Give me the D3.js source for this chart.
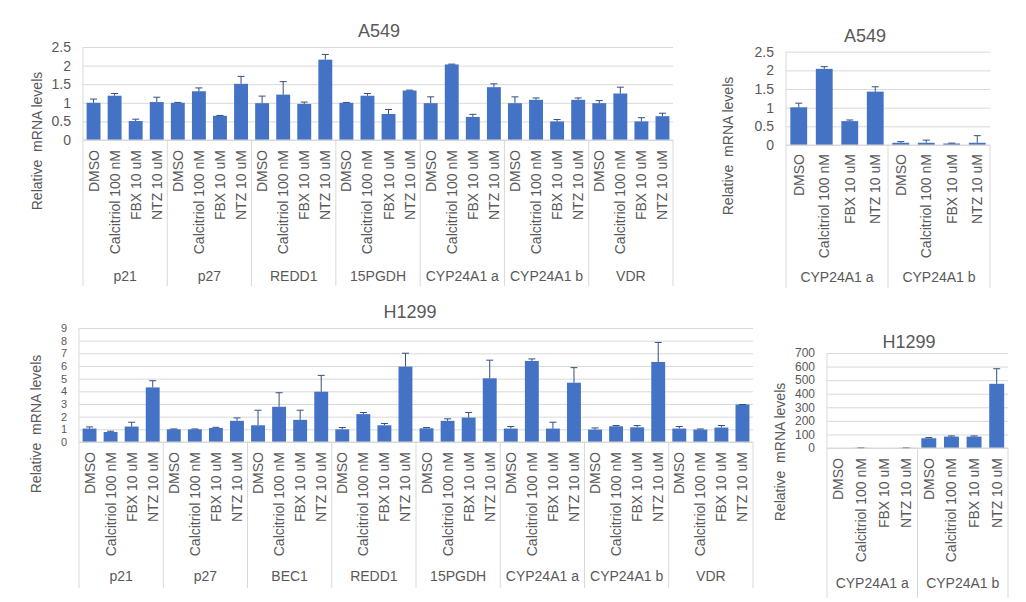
<!DOCTYPE html>
<html><head><meta charset="utf-8">
<script src="https://cdn.jsdelivr.net/npm/d3@7"></script>
<style>
html,body{margin:0;padding:0;background:#fff;}
svg text{font-family:"Liberation Sans",Arial,sans-serif;fill:#595959;}
</style></head>
<body><svg id="c" width="1026" height="602"></svg>
<script>
const conditions = ["DMSO","Calcitriol 100 nM","FBX 10 uM","NTZ 10 uM"];

const a549Genes = ["p21","p27","REDD1","15PGDH","CYP24A1 a","CYP24A1 b","VDR"];
const a549Values = [[1.0,1.19,0.51,1.02],[1.0,1.31,0.65,1.51],[0.99,1.22,0.97,2.16],[1.0,1.19,0.70,1.33],[0.99,2.03,0.62,1.42],[0.99,1.08,0.50,1.08],[0.99,1.25,0.50,0.64]];
const a549Errors = [[0.10,0.06,0.05,0.13],[0.01,0.09,0.01,0.20],[0.19,0.35,0.05,0.14],[0.01,0.06,0.12,0.01],[0.17,0.01,0.07,0.09],[0.17,0.05,0.05,0.05],[0.07,0.17,0.10,0.08]];
const a549Ticks = [0,0.5,1,1.5,2,2.5];

const a549bGenes = ["CYP24A1 a","CYP24A1 b"];
const a549bValues = [[1.01,2.04,0.64,1.43],[0.06,0.06,0.04,0.06]];
const a549bErrors = [[0.11,0.06,0.03,0.13],[0.03,0.07,0.01,0.19]];

const h1299Genes = ["p21","p27","BEC1","REDD1","15PGDH","CYP24A1 a","CYP24A1 b","VDR"];
const h1299Values = [[1.06,0.79,1.22,4.31],[1.0,1.0,1.11,1.67],[1.32,2.78,1.75,3.97],[1.0,2.2,1.32,5.95],[1.08,1.67,1.93,5.03],[1.06,6.4,1.06,4.68],[0.98,1.24,1.16,6.32],[1.06,0.98,1.14,2.96]];
const h1299Errors = [[0.13,0.06,0.34,0.53],[0.03,0.03,0.05,0.23],[1.19,1.11,0.76,1.29],[0.14,0.13,0.14,1.06],[0.06,0.16,0.40,1.43],[0.16,0.16,0.50,1.19],[0.13,0.06,0.14,1.54],[0.16,0.05,0.16,0]];
const h1299Ticks = [0,1,2,3,4,5,6,7,8,9];

const h1299bGenes = ["CYP24A1 a","CYP24A1 b"];
const h1299bValues = [[0,1.2,0,1.2],[72,84,84,473]];
const h1299bErrors = [[0,0.5,0,0.5],[5,5,5,111]];
const h1299bTicks = [0,100,200,300,400,500,600,700];

const BAR = "#4472C4", ERR = "#34507f", GRID = "#d9d9d9";
const svg = d3.select("#c");

function panel(o){
  const g = svg.append("g");
  const y = d3.scaleLinear().domain([0, o.ticks[o.ticks.length-1]]).range([o.y0, o.y1]);
  const gx = d3.scaleBand().domain(o.genes).range([o.x0, o.x1]);
  const cx = d3.scaleBand().domain(conditions).range([0, gx.bandwidth()]).paddingInner(0.34).paddingOuter(0.17);
  const ax = g.append("g").attr("transform",`translate(${o.x0},0)`)
    .call(d3.axisLeft(y).tickValues(o.ticks).tickFormat(d=>String(d)).tickSize(-(o.x1-o.x0)).tickPadding(12));
  ax.select(".domain").remove();
  ax.selectAll(".tick line").attr("stroke",GRID).attr("stroke-width",1);
  ax.selectAll(".tick text").attr("font-size",o.tickFont).attr("fill","#595959")
    .attr("font-family","'Liberation Sans',Arial,sans-serif");
  const bounds = o.genes.map(d=>gx(d)).concat([o.x1]);
  g.selectAll("line.sep").data(bounds).join("line")
    .attr("x1",d=>d).attr("x2",d=>d)
    .attr("y1",(d,i)=> i===0 ? o.y1 : o.y0).attr("y2",o.yBottom)
    .attr("stroke",GRID);
  const rows = [];
  o.genes.forEach((gn,i)=>conditions.forEach((c,j)=>rows.push({gn,c,v:o.values[i][j],e:o.errors[i][j]})));
  const bx = d => gx(d.gn)+cx(d.c);
  g.selectAll("rect.bar").data(rows).join("rect")
    .attr("x",bx).attr("width",cx.bandwidth())
    .attr("y",d=>y(d.v)).attr("height",d=>y(0)-y(d.v)).attr("fill",BAR);
  const eb = g.selectAll("g.err").data(rows.filter(d=>d.v>0)).join("g");
  eb.append("line").attr("x1",d=>bx(d)+cx.bandwidth()/2).attr("x2",d=>bx(d)+cx.bandwidth()/2)
    .attr("y1",d=>y(d.v)).attr("y2",d=>y(d.v+d.e)).attr("stroke",ERR);
  eb.append("line").attr("x1",d=>bx(d)+cx.bandwidth()/2-3.5).attr("x2",d=>bx(d)+cx.bandwidth()/2+3.5)
    .attr("y1",d=>y(d.v+d.e)).attr("y2",d=>y(d.v+d.e)).attr("stroke",ERR);
  g.append("line").attr("x1",o.x0).attr("x2",o.x1).attr("y1",y(0)).attr("y2",y(0)).attr("stroke",GRID);
  g.selectAll("text.cl").data(rows).join("text")
    .attr("transform",d=>`translate(${bx(d)+cx.bandwidth()/2},${o.y0+o.labelGap}) rotate(-90)`)
    .attr("text-anchor","end").attr("dominant-baseline","central")
    .attr("font-size",14).text(d=>d.c);
  g.selectAll("text.gl").data(o.genes).join("text")
    .attr("x",d=>gx(d)+gx.bandwidth()/2).attr("y",o.groupY)
    .attr("text-anchor","middle").attr("dominant-baseline","central")
    .attr("font-size",14).text(d=>d);
  g.append("text").attr("x",o.titleX).attr("y",o.titleY).attr("text-anchor","middle")
    .attr("dominant-baseline","central").attr("font-size",18).text(o.title);
  g.append("text").attr("transform",`translate(${o.ytX},${o.ytY}) rotate(-90)`)
    .attr("text-anchor","middle").attr("dominant-baseline","central")
    .attr("font-size",14).attr("xml:space","preserve").text("Relative  mRNA levels");
}

panel({genes:a549Genes, values:a549Values, errors:a549Errors, ticks:a549Ticks, tickFont:14,
  x0:83, x1:673, y0:140, y1:47, yBottom:286, labelGap:10, groupY:276,
  title:"A549", titleX:379, titleY:31, ytX:37, ytY:141});
panel({genes:a549bGenes, values:a549bValues, errors:a549bErrors, ticks:a549Ticks, tickFont:14,
  x0:786, x1:990, y0:145, y1:51.7, yBottom:288, labelGap:9, groupY:277,
  title:"A549", titleX:865, titleY:36, ytX:728, ytY:146});
panel({genes:h1299Genes, values:h1299Values, errors:h1299Errors, ticks:h1299Ticks, tickFont:11,
  x0:79, x1:753, y0:442, y1:328, yBottom:588, labelGap:10, groupY:576,
  title:"H1299", titleX:410, titleY:312, ytX:36, ytY:424});
panel({genes:h1299bGenes, values:h1299bValues, errors:h1299bErrors, ticks:h1299bTicks, tickFont:12,
  x0:827, x1:1008, y0:448, y1:353, yBottom:598, labelGap:10, groupY:583,
  title:"H1299", titleX:909, titleY:342, ytX:780, ytY:452});
</script></body></html>
